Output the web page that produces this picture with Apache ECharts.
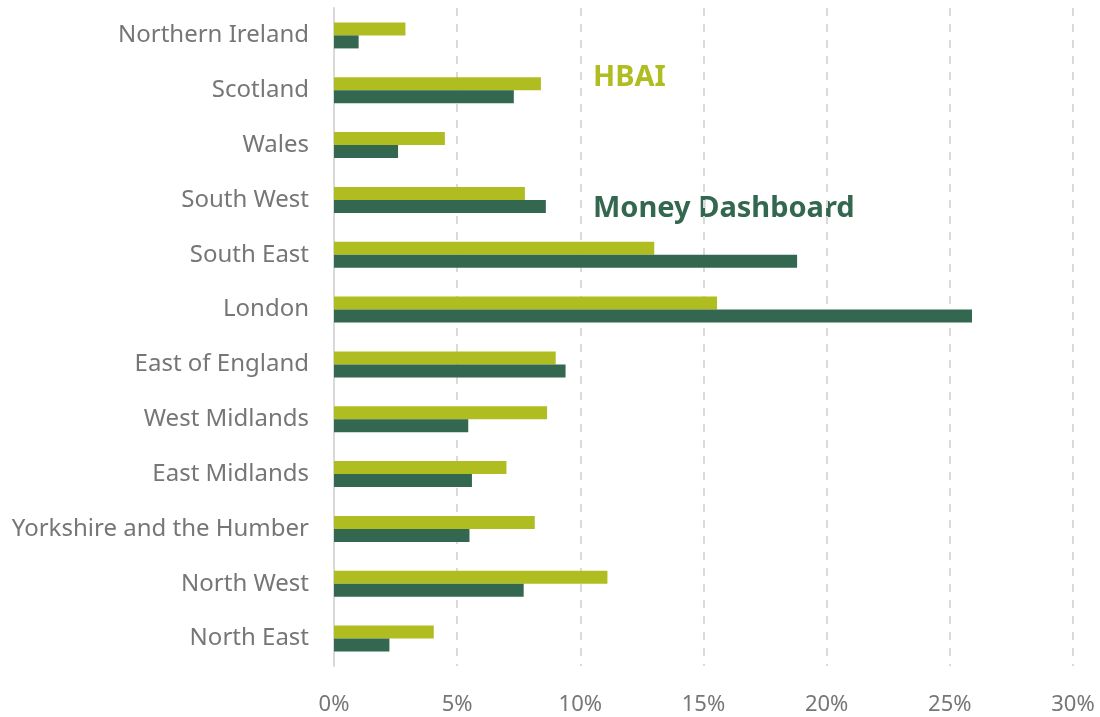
<!DOCTYPE html>
<html>
<head>
<meta charset="utf-8">
<script src="https://cdn.jsdelivr.net/npm/echarts@6/dist/echarts.min.js"></script>
<style>
  html, body { margin: 0; padding: 0; background: #fff; }
  #container { width: 1100px; height: 717px; }
</style>
</head>
<body>
<div id="container"></div>
<script>
// regions, top to bottom as shown
const regions = [
  "Northern Ireland", "Scotland", "Wales", "South West", "South East", "London",
  "East of England", "West Midlands", "East Midlands", "Yorkshire and the Humber",
  "North West", "North East"
];
// share of households (%)
const hbai = [2.9, 8.4, 4.5, 7.75, 13.0, 15.55, 9.0, 8.65, 7.0, 8.15, 11.1, 4.05];
const moneyDashboard = [1.0, 7.3, 2.6, 8.6, 18.8, 25.9, 9.4, 5.45, 5.6, 5.5, 7.7, 2.25];
const xTicks = [0, 5, 10, 15, 20, 25, 30];

const dom = document.getElementById("container");
const myChart = echarts.init(dom, null, { renderer: "canvas" });

const greenLight = "#afbd21";
const greenDark = "#336750";
const grey = "#767676";

const option = {
  animation: false,
  textStyle: { fontFamily: "Noto Sans" },
  grid: { left: 334, right: 27, top: 8, bottom: 51 },
  xAxis: {
    type: "value",
    min: xTicks[0],
    max: xTicks[xTicks.length - 1],
    interval: 5,
    axisLine: { show: false },
    axisTick: { show: false },
    axisLabel: {
      formatter: "{value}%",
      color: grey,
      fontSize: 22,
      margin: 28
    },
    splitLine: {
      lineStyle: { color: "#dadada", width: 2, type: [8, 8] }
    }
  },
  yAxis: {
    type: "category",
    inverse: true,
    data: regions,
    axisLine: { lineStyle: { color: "#d9d9d9", width: 2 } },
    axisTick: { show: false },
    axisLabel: { color: grey, fontSize: 24, margin: 25 }
  },
  series: [
    {
      name: "HBAI",
      type: "bar",
      data: hbai,
      barWidth: 13,
      barGap: "0%",
      itemStyle: { color: greenLight }
    },
    {
      name: "Money Dashboard",
      type: "bar",
      data: moneyDashboard,
      barWidth: 13,
      barGap: "0%",
      itemStyle: { color: greenDark }
    }
  ],
  graphic: [
    {
      type: "text",
      left: 593,
      top: 63,
      style: { text: "HBAI", fill: greenLight, font: "bold 29px 'Noto Sans'" }
    },
    {
      type: "text",
      left: 593,
      top: 194,
      style: { text: "Money Dashboard", fill: greenDark, font: "bold 29px 'Noto Sans'" }
    }
  ]
};

myChart.setOption(option);
window.addEventListener("resize", myChart.resize);
</script>
</body>
</html>
